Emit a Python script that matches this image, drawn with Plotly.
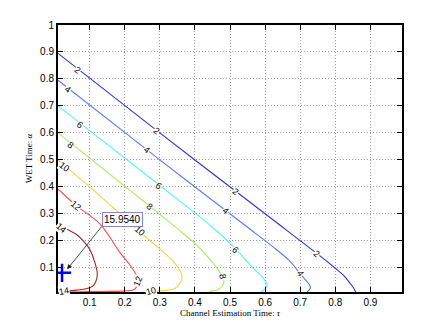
import plotly.graph_objects as go

# contour levels and the traced iso-lines (tau, alpha)
levels = [2, 4, 6, 8, 10, 12, 14]
level_colors = ['#3030e0', '#5a78ff', '#55f5f5', '#a8f060', '#ffd040', '#ff4848', '#a02828']

c2_x = [0.01, 0.30, 0.60, 0.76, 0.80, 0.825, 0.841, 0.852, 0.858]
c2_y = [0.895, 0.60, 0.30, 0.14, 0.098, 0.07, 0.044, 0.025, 0.01]
c4_x = [0.01, 0.30, 0.55, 0.62, 0.67, 0.698, 0.715, 0.727, 0.729, 0.72]
c4_y = [0.795, 0.50, 0.25, 0.18, 0.125, 0.081, 0.055, 0.035, 0.025, 0.01]
c6_x = [0.01, 0.30, 0.45, 0.516, 0.56, 0.59, 0.603, 0.606, 0.60, 0.588]
c6_y = [0.70, 0.405, 0.25, 0.17, 0.106, 0.068, 0.045, 0.035, 0.022, 0.01]
c8_x = [0.01, 0.27, 0.35, 0.40, 0.44, 0.465, 0.478, 0.483, 0.478, 0.468, 0.455, 0.44]
c8_y = [0.60, 0.33, 0.245, 0.19, 0.135, 0.095, 0.068, 0.05, 0.032, 0.02, 0.015, 0.012]
c10_x = [0.01, 0.10, 0.20, 0.25, 0.30, 0.33, 0.35, 0.362, 0.363, 0.355, 0.344, 0.32, 0.28]
c10_y = [0.50, 0.40, 0.285, 0.225, 0.17, 0.135, 0.105, 0.075, 0.058, 0.038, 0.024, 0.016, 0.012]
c12_x = [0.01, 0.062, 0.13, 0.186, 0.215, 0.232, 0.238, 0.236, 0.226, 0.20, 0.14, 0.07, 0.04]
c12_y = [0.392, 0.33, 0.262, 0.157, 0.11, 0.075, 0.05, 0.035, 0.018, 0.014, 0.012, 0.011, 0.01]
c14_x = [0.01, 0.04, 0.062, 0.085, 0.10, 0.115, 0.122, 0.118, 0.109, 0.09, 0.062, 0.03]
c14_y = [0.265, 0.24, 0.224, 0.195, 0.169, 0.12, 0.075, 0.05, 0.032, 0.022, 0.017, 0.012]

contours_x = [c2_x, c4_x, c6_x, c8_x, c10_x, c12_x, c14_x]
contours_y = [c2_y, c4_y, c6_y, c8_y, c10_y, c12_y, c14_y]

# inline labels: (level, tau, alpha, angle)
label_level = [2, 2, 2, 2, 4, 4, 4, 4, 6, 6, 6, 8, 8, 8, 10, 10, 10, 12, 12, 14, 14]
label_x = [0.065, 0.291, 0.517, 0.747, 0.036, 0.263, 0.488, 0.700,
           0.072, 0.297, 0.516, 0.045, 0.272, 0.478, 0.028, 0.243, 0.275,
           0.062, 0.238, 0.019, 0.028]
label_y = [0.832, 0.607, 0.381, 0.150, 0.761, 0.535, 0.310, 0.080,
           0.628, 0.403, 0.166, 0.555, 0.326, 0.068, 0.472, 0.238, 0.013,
           0.330, 0.050, 0.246, 0.013]
label_angle = [37, 37, 37, 40, 37, 37, 40, 55, 37, 37, 45, 37, 37, 80, 37, 40, -15,
               40, -70, 40, -10]

peak_x = [0.0215]
peak_y = [0.081]
peak_text = '15.9540'

x_ticks = [0.1, 0.2, 0.3, 0.4, 0.5, 0.6, 0.7, 0.8, 0.9]
y_ticks = [0.1, 0.2, 0.3, 0.4, 0.5, 0.6, 0.7, 0.8, 0.9, 1.0]
y_ticktext = ['0.1', '0.2', '0.3', '0.4', '0.5', '0.6', '0.7', '0.8', '0.9', '1']

fig = go.Figure()
for lev, xs, ys, col in zip(levels, contours_x, contours_y, level_colors):
    fig.add_trace(go.Scatter(x=xs, y=ys, mode='lines', line=dict(color=col, width=1.1),
                             line_shape='spline', name=str(lev), showlegend=False))

for lev, lx, ly, ang in zip(label_level, label_x, label_y, label_angle):
    fig.add_annotation(x=lx, y=ly, text=str(lev), showarrow=False, textangle=ang,
                       font=dict(family='Liberation Sans, Arial', size=9, color='black'),
                       bgcolor='white', borderpad=0)

fig.add_trace(go.Scatter(x=peak_x, y=peak_y, mode='markers', showlegend=False,
                         marker=dict(symbol='cross-thin', size=13, line=dict(color='#0000ff', width=2.5))))

fig.add_annotation(x=0.036, y=0.094, ax=0.134, ay=0.252, axref='x', ayref='y',
                   text=peak_text, showarrow=True, arrowhead=2, arrowsize=1.2, arrowwidth=0.8,
                   arrowcolor='#202020', xanchor='left', yanchor='bottom',
                   bgcolor='white', bordercolor='#7f7fff', borderwidth=1, borderpad=1,
                   font=dict(family='Liberation Sans, Arial', size=10, color='black'))

axis_common = dict(showline=True, linecolor='black', linewidth=2, mirror='ticks',
                   ticks='inside', ticklen=5, tickwidth=1.2, tickcolor='black',
                   showgrid=True, gridcolor='#999999', griddash='1px,2px', gridwidth=1,
                   zeroline=False, fixedrange=True,
                   tickfont=dict(family='Liberation Sans, Arial', size=10, color='black'))

fig.update_layout(
    width=444, height=329,
    margin=dict(l=58, r=42, t=25, b=37),
    paper_bgcolor='white', plot_bgcolor='white',
    xaxis=dict(range=[0.01, 0.99], tickvals=x_ticks,
               title=dict(text='Channel Estimation Time: <i>τ</i>', standoff=2,
                          font=dict(family='Liberation Serif, DejaVu Serif', size=9, color='black')),
               **axis_common),
    yaxis=dict(range=[0.01, 1.0], tickvals=y_ticks, ticktext=y_ticktext,
               title=dict(text='WET Time: <i>α</i>', standoff=6,
                          font=dict(family='Liberation Serif, DejaVu Serif', size=9, color='black')),
               **axis_common),
)

# page body has a default 8px margin; drop it so the figure sits at the window corner
fig.write_html("out.html", config={'displayModeBar': False},
               post_script="document.body.style.margin='0px';")
